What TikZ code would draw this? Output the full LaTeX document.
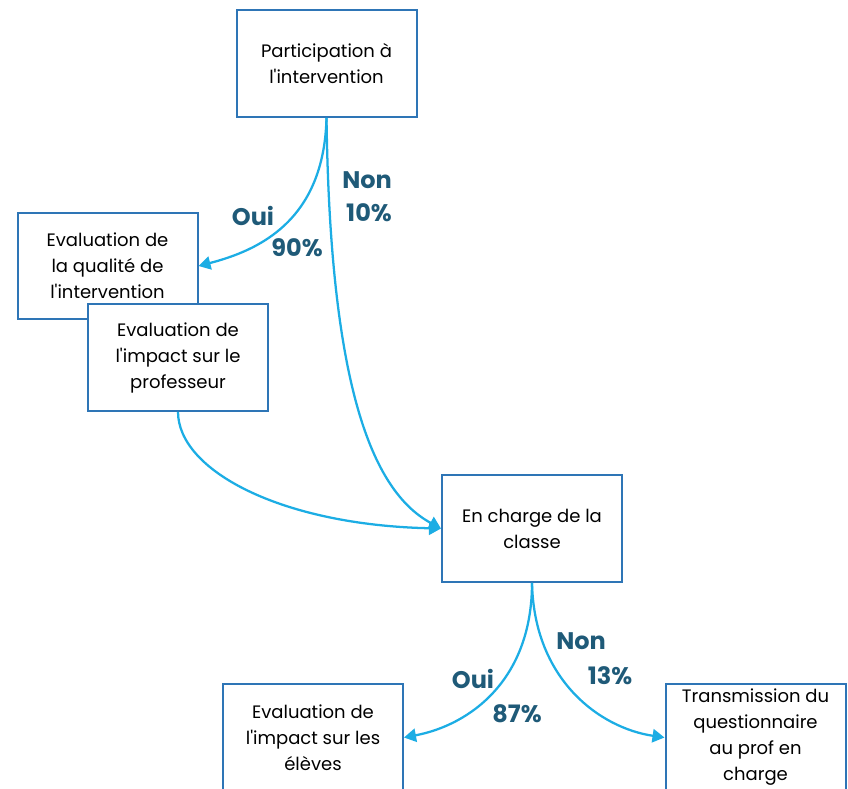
\documentclass[tikz,border=0pt]{standalone}
\usepackage{fontspec}
\newfontfamily\boxfont{Poppins}
\usetikzlibrary{arrows.meta}
\definecolor{boxblue}{RGB}{46,117,182}
\definecolor{arrowblue}{RGB}{28,173,228}
\definecolor{labelteal}{RGB}{31,90,120}
\tikzset{
  stepbox/.style={draw=boxblue, line width=1.5pt, fill=white, minimum width=135pt, minimum height=80pt, align=center, inner sep=2pt, font=\boxfont\fontsize{13.5}{19.5}\selectfont},
  conn/.style={draw=arrowblue, line width=1.7pt, -{Triangle[length=9pt,width=10pt]}},
  lab/.style={text=labelteal, font=\boxfont\fontsize{18}{20}\selectfont\bfseries, inner sep=0pt}
}
\begin{document}
\begin{tikzpicture}[x=0.75pt,y=-0.75pt]
\useasboundingbox (0,0) rectangle (848,788);
\node[stepbox] (part) at (326.5,63.5) {Participation à\\l'intervention};
\node[stepbox] (qual) at (107.5,266) {Evaluation de\\la qualité de\\l'intervention};
\node[stepbox] (prof) at (178,357.5) {Evaluation de\\l'impact sur le\\professeur};
\node[stepbox] (charge) at (532,528.5) {En charge de la\\classe};
\node[stepbox] (eleves) at (313,737.5) {Evaluation de\\l'impact sur les\\élèves};
\node[stepbox] (trans) at (755.5,737.5) {Transmission du\\questionnaire\\au prof en\\charge};
\draw[conn] (part.south) .. controls (324,220) and (260,250) .. (qual.east);
\draw[conn] (part.south) .. controls (330,380) and (370,490) .. (charge.west);
\draw[conn] (prof.south) .. controls (178,470) and (280,525) .. (charge.west);
\draw[conn] (charge.south) .. controls (532,680) and (470,725) .. (eleves.east);
\draw[conn] (charge.south) .. controls (534,680) and (600,728) .. (trans.west);
\node[lab] (oui1) at (253,216) {Oui};
\node[lab] (p90) at (297,248) {90\%};
\node[lab] (non1) at (367,180) {Non};
\node[lab] (p10) at (369,213) {10\%};
\node[lab] (oui2) at (473,679) {Oui};
\node[lab] (p87) at (517,714) {87\%};
\node[lab] (non2) at (581,641) {Non};
\node[lab] (p13) at (610,676) {13\%};
\end{tikzpicture}
\end{document}
